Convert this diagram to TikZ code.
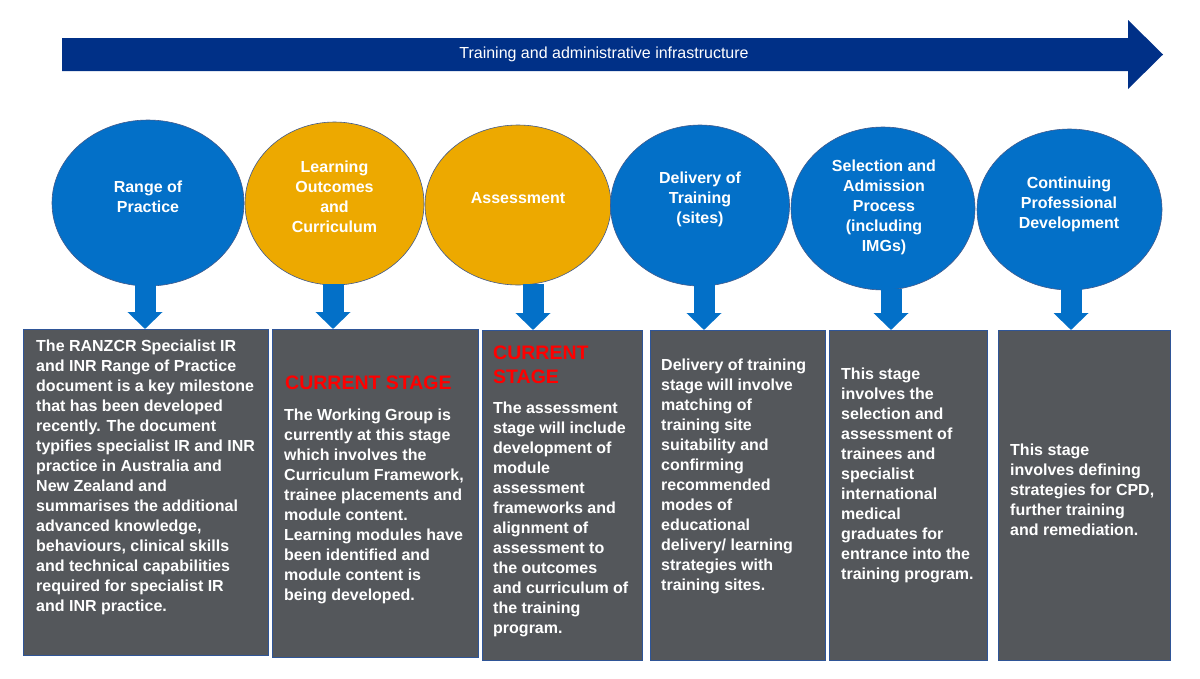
\documentclass[tikz,border=0pt]{standalone}
\usepackage{fontspec}
\setmainfont{Liberation Sans}
\usetikzlibrary{shapes.geometric,arrows.meta}
\definecolor{navy}{RGB}{0,48,135}
\definecolor{cblue}{RGB}{3,112,200}
\definecolor{corange}{RGB}{237,169,0}
\definecolor{boxgray}{RGB}{84,87,91}
\definecolor{edgeblue}{RGB}{47,85,151}
\definecolor{circedge}{RGB}{65,90,140}
\begin{document}
\begin{tikzpicture}[x=1pt,y=-1pt,
  stage/.style={ellipse, draw=circedge, line width=0.6pt, inner sep=0pt},
  bluestage/.style={stage, fill=cblue},
  orangestage/.style={stage, fill=corange},
  stagelabel/.style={text=white, font=\bfseries\fontsize{16}{20}\selectfont, align=center, inner sep=0pt},
  infobox/.style={rectangle, fill=boxgray, draw=edgeblue, line width=0.8pt, anchor=north west, inner sep=0pt},
  infotext/.style={text=white, font=\bfseries\fontsize{16}{20}\selectfont, align=left, anchor=north west, inner sep=0pt},
  redtext/.style={text=red, font=\bfseries\fontsize{19.5}{24}\selectfont, align=left, anchor=north west, inner sep=0pt},
  downarrow/.style={draw=cblue, line width=21pt, -{Triangle[width=34pt,length=17pt]}},
]
\useasboundingbox (0,0) rectangle (1200,678);
\fill[white] (0,0) rectangle (1200,678);

% infrastructure arrow
\fill[navy] (62,38) -- (1128,38) -- (1128,20) -- (1163,54.5) -- (1128,89) -- (1128,71) -- (62,71) -- cycle;
\node[text=white, font=\fontsize{16}{20}\selectfont, inner sep=0pt] (infra) at (604,54.5) {Training and administrative infrastructure};

% boxes
\node[infobox, minimum width=245pt, minimum height=326pt] (b1) at (23,329) {};
\node[infobox, minimum width=206pt, minimum height=328pt] (b2) at (272,329) {};
\node[infobox, minimum width=160pt, minimum height=330pt] (b3) at (482,330) {};
\node[infobox, minimum width=175pt, minimum height=330pt] (b4) at (650,330) {};
\node[infobox, minimum width=158pt, minimum height=330pt] (b5) at (829,330) {};
\node[infobox, minimum width=172pt, minimum height=330pt] (b6) at (998,330) {};

% circles
\node[bluestage, minimum width=192pt, minimum height=166pt] (c1) at (148,203) {};
\node[orangestage, minimum width=179pt, minimum height=163pt] (c2) at (334.5,203.5) {};
\node[orangestage, minimum width=186pt, minimum height=160pt] (c3) at (518,205) {};
\node[bluestage, minimum width=179pt, minimum height=161pt] (c4) at (700,205.5) {};
\node[bluestage, minimum width=184pt, minimum height=163pt] (c5) at (883,208.5) {};
\node[bluestage, minimum width=185pt, minimum height=161pt] (c6) at (1069.5,209.5) {};

\node[stagelabel] (l1) at (148,197) {Range of\\Practice};
\node[stagelabel] (l2) at (334.5,197) {Learning\\Outcomes\\and\\Curriculum};
\node[stagelabel] (l3) at (518,198) {Assessment};
\node[stagelabel] (l4) at (700,199) {Delivery of\\Training\\(sites)};
\node[stagelabel] (l5) at (884,207) {Selection and\\Admission\\Process\\(including\\IMGs)};
\node[stagelabel] (l6) at (1069,204) {Continuing\\Professional\\Development};

% down arrows
\coordinate (a1) at (145,285);
\coordinate (a2) at (333,284);
\coordinate (a3) at (533,284);
\coordinate (a4) at (704,284);
\coordinate (a5) at (891,289);
\coordinate (a6) at (1071,287);
\draw[downarrow] (a1) -- (a1 |- b1.north);
\draw[downarrow] (a2) -- (a2 |- b2.north);
\draw[downarrow] (a3) -- (a3 |- b3.north);
\draw[downarrow] (a4) -- (a4 |- b4.north);
\draw[downarrow] (a5) -- (a5 |- b5.north);
\draw[downarrow] (a6) -- (a6 |- b6.north);

% texts
\node[infotext] (t1) at (36,337) {\strut The RANZCR Specialist IR\\and INR Range of Practice\\document is a key milestone\\that has been developed\\recently. The document\\typifies specialist IR and INR\\practice in Australia and\\New Zealand and\\summarises the additional\\advanced knowledge,\\behaviours, clinical skills\\and technical capabilities\\required for specialist IR\\and INR practice.};

\node[redtext] (r2) at (285,372) {\strut CURRENT STAGE};
\node[infotext] (t2) at (284,406) {\strut The Working Group is\\currently at this stage\\which involves the\\Curriculum Framework,\\trainee placements and\\module content.\\Learning modules have\\been identified and\\module content is\\being developed.};

\node[redtext] (r3) at (493,342) {\strut CURRENT\\STAGE};
\node[infotext] (t3) at (493,399) {\strut The assessment\\stage will include\\development of\\module\\assessment\\frameworks and\\alignment of\\assessment to\\the outcomes\\and curriculum of\\the training\\program.};

\node[infotext] (t4) at (661,356) {\strut Delivery of training\\stage will involve\\matching of\\training site\\suitability and\\confirming\\recommended\\modes of\\educational\\delivery/ learning\\strategies with\\training sites.};

\node[infotext] (t5) at (841,365) {\strut This stage\\involves the\\selection and\\assessment of\\trainees and\\specialist\\international\\medical\\graduates for\\entrance into the\\training program.};

\node[infotext] (t6) at (1010,441) {\strut This stage\\involves defining\\strategies for CPD,\\further training\\and remediation.};
\end{tikzpicture}
\end{document}
